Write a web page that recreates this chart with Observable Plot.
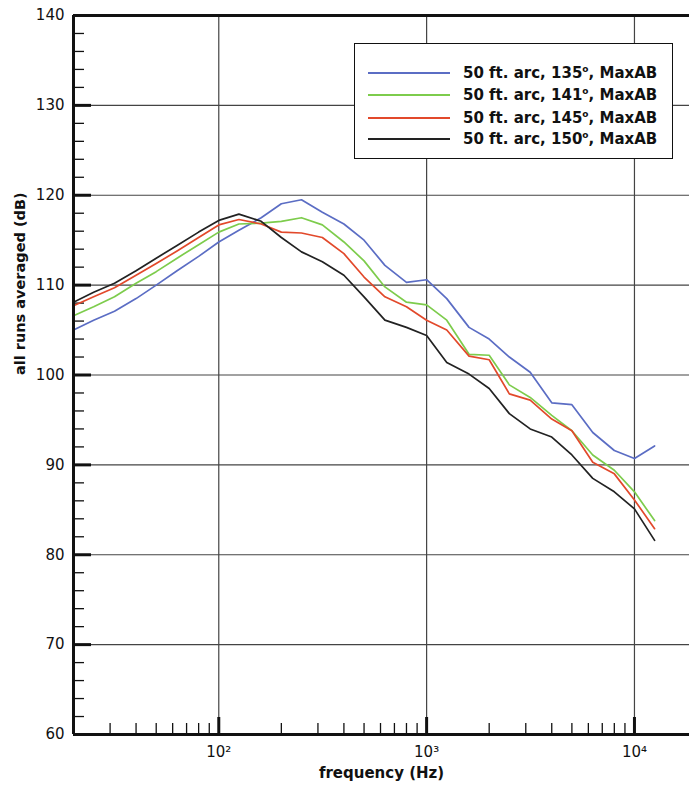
<!DOCTYPE html>
<html>
<head>
<meta charset="utf-8">
<script src="https://cdn.jsdelivr.net/npm/d3@7"></script>
<script src="https://cdn.jsdelivr.net/npm/@observablehq/plot@0.6"></script>
<style>
  html, body { margin: 0; padding: 0; background: #fff; }
  #wrap { position: relative; width: 689px; height: 790px; overflow: hidden; }
  #legend {
    position: absolute; left: 354px; top: 43px; width: 317px; height: 114px;
    background: #fff; border: 1.5px solid #111; box-sizing: content-box;
    font-family: "DejaVu Sans", sans-serif; font-weight: bold; font-size: 15px; color: #111;
  }
  .row { position: absolute; left: 0; height: 20px; display: flex; align-items: center; }
  .row svg { margin-left: 13px; margin-right: 13px; }
  .row sup { font-size: 9px; vertical-align: 6px; line-height: 0; }
</style>
</head>
<body>
<div id="wrap"></div>
<script>
// ---- data ----
const freqs = [20, 25, 31.5, 40, 50, 63, 80, 100, 125, 160, 200, 250, 315, 400, 500, 630, 800, 1000, 1250, 1600, 2000, 2500, 3150, 4000, 5000, 6300, 8000, 10000, 12500];
const seriesNames = ["50 ft. arc, 135°, MaxAB", "50 ft. arc, 141°, MaxAB", "50 ft. arc, 145°, MaxAB", "50 ft. arc, 150°, MaxAB"];
const angles = ["135", "141", "145", "150"];
const arc135 = [105.0, 106.1, 107.1, 108.5, 110.0, 111.6, 113.2, 114.8, 116.1, 117.5, 119.05, 119.5, 118.1, 116.8, 115.0, 112.2, 110.3, 110.6, 108.5, 105.3, 104.0, 102.0, 100.3, 96.9, 96.7, 93.6, 91.6, 90.7, 92.1];
const arc141 = [106.6, 107.6, 108.7, 110.2, 111.5, 113.0, 114.5, 115.9, 116.8, 116.9, 117.1, 117.5, 116.7, 114.8, 112.7, 109.8, 108.1, 107.8, 106.1, 102.3, 102.2, 98.9, 97.5, 95.5, 93.8, 91.1, 89.4, 87.0, 83.8];
const arc145 = [107.7, 108.7, 109.7, 111.1, 112.4, 113.8, 115.3, 116.7, 117.3, 116.8, 115.9, 115.8, 115.3, 113.5, 110.9, 108.7, 107.6, 106.1, 105.0, 102.1, 101.7, 97.9, 97.2, 95.1, 93.8, 90.3, 89.0, 86.1, 82.9];
const arc150 = [108.1, 109.2, 110.2, 111.6, 113.0, 114.4, 115.9, 117.2, 117.9, 117.1, 115.3, 113.7, 112.6, 111.1, 108.7, 106.1, 105.3, 104.4, 101.4, 100.1, 98.5, 95.7, 94.0, 93.1, 91.1, 88.5, 87.0, 85.1, 81.6];
const colors = ["#5b6dc4", "#7dcc4c", "#e2492b", "#222222"];
const yTicks = [60, 70, 80, 90, 100, 110, 120, 130, 140];
const yMinor = [62, 64, 66, 68, 72, 74, 76, 78, 82, 84, 86, 88, 92, 94, 96, 98, 102, 104, 106, 108, 112, 114, 116, 118, 122, 124, 126, 128, 132, 134, 136, 138];
const xDecades = [100, 1000, 10000];
const xDecadeLabels = ["10²", "10³", "10⁴"];
const xMinor = [30, 40, 50, 60, 70, 80, 90, 200, 300, 400, 500, 600, 700, 800, 900, 2000, 3000, 4000, 5000, 6000, 7000, 8000, 9000];
const xTitle = "frequency (Hz)";
const yTitle = "all runs averaged (dB)";

// ---- build table ----
const allSeries = [arc135, arc141, arc145, arc150];
const rows = [];
allSeries.forEach((vals, s) => vals.forEach((v, i) => rows.push({freq: freqs[i], db: v, series: seriesNames[s]})));

const W = 689, H = 790, mL = 73, mR = 0, mT = 15, mB = 56;
const plotW = W - mL - mR, plotH = H - mT - mB;

const chart = Plot.plot({
  width: W, height: H,
  marginLeft: mL, marginRight: mR, marginTop: mT, marginBottom: mB,
  style: {fontFamily: "DejaVu Sans, sans-serif", fontSize: "15px", background: "#fff", color: "#111"},
  x: {type: "log", domain: [20, 18400]},
  y: {domain: [60, 140]},
  color: {domain: seriesNames, range: colors},
  marks: [
    Plot.ruleX(xDecades, {stroke: "#444", strokeWidth: 1.2}),
    Plot.ruleY(yTicks.slice(1, -1), {stroke: "#444", strokeWidth: 1.2}),
    Plot.tickY(yMinor, {stroke: "#111", strokeWidth: 1.3, insetRight: plotW - 11}),
    Plot.tickY(yTicks, {stroke: "#111", strokeWidth: 3, insetRight: plotW - 18}),
    Plot.tickX(xMinor, {stroke: "#111", strokeWidth: 1.3, insetTop: plotH - 11}),
    Plot.tickX(xDecades, {stroke: "#111", strokeWidth: 3, insetTop: plotH - 17}),
    Plot.line(rows, {x: "freq", y: "db", stroke: "series", z: "series", strokeWidth: 1.7}),
    Plot.ruleY([60], {stroke: "#111", strokeWidth: 3}),
    Plot.ruleY([140], {stroke: "#111", strokeWidth: 3}),
    Plot.ruleX([20], {stroke: "#111", strokeWidth: 3}),
    Plot.axisY(yTicks, {tickSize: 0, tickPadding: 9, label: null, fontSize: 15}),
    Plot.axisX(xDecades, {tickSize: 0, tickPadding: 12, label: null, fontSize: 15,
      tickFormat: d => xDecadeLabels[xDecades.indexOf(d)]}),
    Plot.text([xTitle], {frameAnchor: "bottom", dy: 43, fontWeight: "bold", fontSize: 15, fill: "#111"}),
    Plot.text([yTitle], {frameAnchor: "left", dx: -53, rotate: -90, fontWeight: "bold", fontSize: 14.5, fill: "#111"})
  ]
});

const wrap = document.getElementById("wrap");
wrap.appendChild(chart);

// ---- legend ----
const legend = document.createElement("div");
legend.id = "legend";
const rowTops = [19, 41, 64, 85];
seriesNames.forEach((name, i) => {
  const r = document.createElement("div");
  r.className = "row";
  r.style.top = rowTops[i] + "px";
  r.innerHTML = `<svg width="82" height="4"><line x1="0" x2="82" y1="2" y2="2" stroke="${colors[i]}" stroke-width="2"/></svg>` +
    `<span>50 ft. arc, ${angles[i]}<sup>o</sup>, MaxAB</span>`;
  legend.appendChild(r);
});
wrap.appendChild(legend);
</script>
</body>
</html>
